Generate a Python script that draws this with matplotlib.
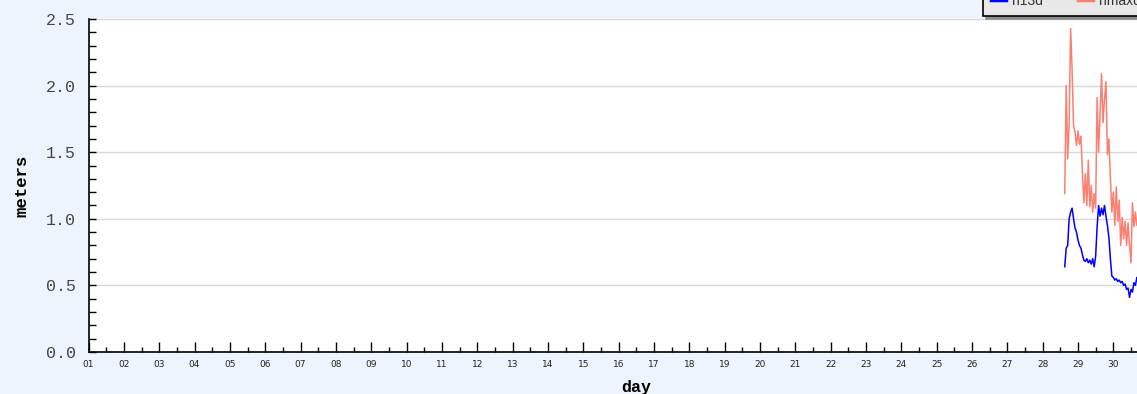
import numpy as np
import matplotlib.pyplot as plt
from matplotlib.ticker import MultipleLocator, FixedLocator, FixedFormatter

# hourly wave heights, starting day 28 at 15:00
start_day = 28.625
step_day = 1.0 / 24

h13d = [0.64, 0.78, 0.80, 1.00, 1.05, 1.08, 1.00, 0.93, 0.90, 0.84,
        0.80, 0.78, 0.73, 0.69, 0.68, 0.70, 0.67, 0.69, 0.66, 0.70,
        0.64, 0.72, 0.94, 1.10, 1.02, 1.08, 1.03, 1.10, 1.02, 0.95,
        0.86, 0.70, 0.57, 0.56, 0.54, 0.55, 0.53, 0.54, 0.52, 0.53,
        0.50, 0.51, 0.47, 0.48, 0.41, 0.47, 0.45, 0.52, 0.50, 0.56,
        0.55]

hmaxd = [1.19, 2.00, 1.45, 1.72, 2.43, 2.12, 1.70, 1.65, 1.55, 1.66,
         1.56, 1.62, 1.35, 1.12, 1.34, 1.10, 1.44, 1.09, 1.25, 1.05,
         1.19, 1.08, 1.91, 1.50, 1.78, 2.09, 1.72, 1.90, 2.03, 1.48,
         1.60, 1.31, 1.05, 1.20, 0.95, 1.24, 0.98, 1.14, 0.80, 1.01,
         0.85, 0.98, 0.80, 0.97, 0.80, 0.67, 1.12, 0.94, 1.05, 0.95,
         1.02]

day_labels = ["%02d" % d for d in range(1, 32)]

t = start_day + step_day * np.arange(len(h13d))

bg = "#eef4fe"
fig = plt.figure(figsize=(11.37, 3.94), dpi=100, facecolor=bg)
ax = fig.add_axes([88.5 / 1137, 42 / 394, (1184 - 88.5) / 1137, 333 / 394])
ax.set_facecolor("white")

l1, = ax.plot(t, h13d, color="#0000ff", lw=1.1, label="h13d")
l2, = ax.plot(t, hmaxd, color="#fa8072", lw=1.1, label="hmaxd")

ax.set_xlim(1, 32)
ax.set_ylim(0, 2.5)

ax.xaxis.set_major_locator(FixedLocator(range(1, 32)))
ax.xaxis.set_major_formatter(FixedFormatter(day_labels))
ax.xaxis.set_minor_locator(MultipleLocator(0.5))
ax.yaxis.set_major_locator(MultipleLocator(0.5))
ax.yaxis.set_minor_locator(MultipleLocator(0.1))
ax.yaxis.set_major_formatter(plt.FuncFormatter(lambda v, p: "%.1f" % v))

ax.tick_params(axis="x", which="major", direction="in", length=7, width=1,
               labelsize=6.5, pad=6, labelcolor="#222222")
ax.tick_params(axis="x", which="minor", direction="in", length=3.5, width=1)
ax.tick_params(axis="y", which="both", direction="in", length=5, width=1,
               labelsize=12, pad=9)
for lab in ax.get_yticklabels():
    lab.set_family("Liberation Mono")
    lab.set_color("#444444")

ax.grid(axis="y", which="major", color="#d8d8d8", lw=1)
ax.set_axisbelow(True)
for s in ["top", "right"]:
    ax.spines[s].set_visible(False)
for s in ["left", "bottom"]:
    ax.spines[s].set_linewidth(1.2)

ax.set_xlabel("day", fontsize=12, fontweight="bold", family="Liberation Mono", labelpad=8)
ax.set_ylabel("meters", fontsize=12.5, fontweight="bold", family="Liberation Mono", labelpad=12)

leg = fig.legend(handles=[l1, l2], loc="lower left", ncol=2,
                 bbox_to_anchor=(983 / 1137, (394 - 16) / 394),
                 borderaxespad=0,
                 prop={"family": "Liberation Sans", "size": 10},
                 frameon=True, fancybox=False,
                 edgecolor="black", facecolor="#e8e8e8", framealpha=1,
                 shadow={"color": "0.55", "alpha": 1},
                 handlelength=1.1, handletextpad=0.45, columnspacing=2.5,
                 borderpad=0.55)
leg.get_frame().set_linewidth(1.2)
for ln in leg.get_lines():
    ln.set_linewidth(2.5)
for txt in leg.get_texts():
    txt.set_color("#333333")

fig.savefig("out.png", dpi=100, facecolor=bg)
